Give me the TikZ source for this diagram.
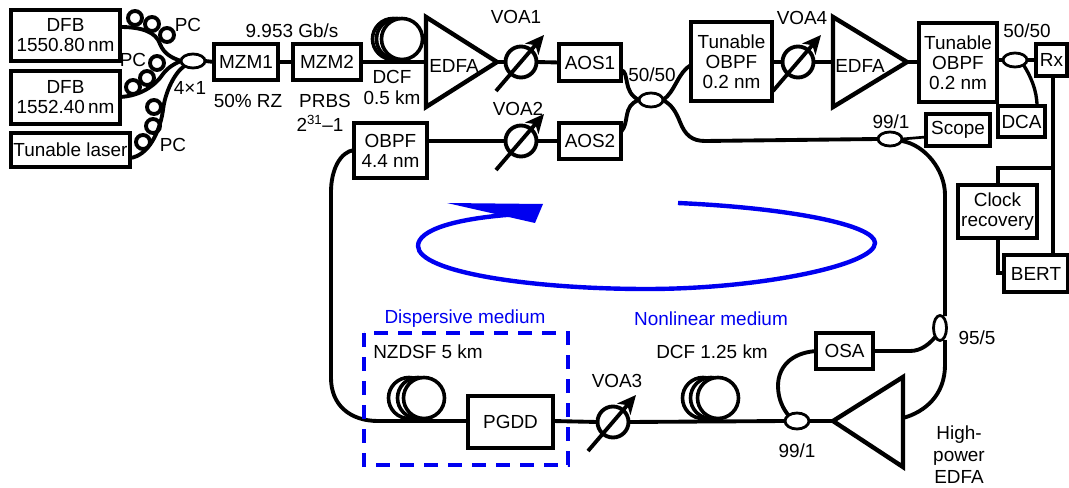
\documentclass[tikz,border=0pt]{standalone}
\usepackage{fontspec}
\setmainfont{Liberation Sans}
\usetikzlibrary{shapes.geometric,arrows.meta,calc}
\definecolor{loopblue}{RGB}{0,0,240}
\newcommand\blk[7][]{\node[blk,#1,minimum width={(#5-#3)*0.75pt},minimum height={(#6-#4)*0.75pt}] (#2) at ({(#3+#5)/2},{(#4+#6)/2}) {#7};}
\newcommand\voa[3]{\node[voabody] (#1) at (#2,#3) {};
  \coordinate (#1-a) at ([shift={(-25,29)}]#1.center);
  \coordinate (#1-b) at ([shift={(23,-27)}]#1.center);
  \draw[voaarrow] (#1-a) -- (#1-b);}
\newcommand\amp[7]{\coordinate (#1-a) at (#2,#3); \coordinate (#1-b) at (#4,#5); \coordinate (#1-tip) at (#6,#7);
  \draw[ampl] (#1-a) -- (#1-b) -- (#1-tip) -- cycle;}
\tikzset{
  x=0.75pt,y=-0.75pt,
  every node/.style={font=\fontsize{14.2}{15}\selectfont,inner sep=0pt,outer sep=0pt,align=center},
  fib/.style={line width=2.9pt,black},
  thinfib/.style={line width=2.5pt,black},
  blk/.style={draw,line width=3.3pt,fill=white},
  blkthin/.style={line width=2.7pt},
  coupler/.style={draw,ellipse,line width=2.1pt,fill=white,minimum width=24*0.75pt,minimum height=14*0.75pt},
  couplerv/.style={draw,ellipse,line width=2.1pt,fill=white,minimum width=13*0.75pt,minimum height=25*0.75pt},
  pcloop/.style={draw,circle,line width=2.9pt,minimum size=14*0.75pt},
  coilring/.style={draw,circle,line width=2.7pt,fill=white,minimum size=41*0.75pt},
  voabody/.style={draw,ellipse,line width=2.9pt,minimum width=31*0.75pt,minimum height=31*0.75pt},
  voaarrow/.style={line width=2.9pt,-{Stealth[length=14pt,width=13pt,inset=4pt]}},
  ampl/.style={line width=3.3pt,line join=miter,fill=white},
  medium/.style={text=loopblue},
}
\begin{document}
\begin{tikzpicture}
\useasboundingbox (0,0) rectangle (1069,488);
% --- sources
\blk{dfba}{11}{10}{120}{61}{DFB\\1550.80\,nm}
\blk{dfbb}{11}{71}{120}{124}{DFB\\1552.40\,nm}
\blk{tun}{11}{133}{130}{167}{Tunable laser}
\node[coupler] (cin) at (193,61) {};
\foreach \n/\x/\y in {pa1/135/18,pa2/152/24,pa3/167/35,pb1/157/63,pb2/147/78,pb3/133/87,pc1/154/107,pc2/153/126,pc3/143/142}
  \node[pcloop] (\n) at (\x,\y) {};
\draw[fib] (dfba.east|-0,27) .. controls (142,27) and (156,32) .. (160,44) .. controls (164,54) and (172,58) .. (cin.west);
\draw[fib] (dfbb.east|-0,97) .. controls (140,96) and (155,86) .. (163,74) .. controls (168,67) and (176,63) .. (cin.west);
\draw[fib] (tun.east|-0,158) .. controls (148,156) and (160,132) .. (163,110) .. controls (165,92) and (175,72) .. (cin.south west);
\node at (188,25) {PC};
\node at (133,60) {PC};
\node at (173,145) {PC};
\node at (190,88) {4×1};
% --- modulators
\blk{mzma}{214}{44}{278}{80}{MZM1}
\blk{mzmb}{293}{44}{361}{80}{MZM2}
\draw[fib] (cin.east) -- (mzma.west);
\draw[fib] (mzma.east) -- (mzmb.west);
\node at (292,31) {9.953 Gb/s};
\node at (248,101) {50\% RZ};
\node at (325,101) {PRBS};
\node at (320,123) {2\textsuperscript{31}–1};
% --- DCF and first EDFA
\node[coilring] (dcfa) at (393,39) {};
\node[coilring] (dcfb) at (397,39) {};
\node[coilring] (dcfc) at (402,39) {};
\node at (392,77) {DCF};
\node at (392,98) {0.5 km};
\amp{ea}{426}{17}{426}{107}{497}{62}
\node (ealabel) at (454,66) {EDFA};
\draw[fib] (mzmb.east) -- (ea-a|-0,62);
\voa{voaa}{521}{62}
\node at (516,17) {VOA1};
\blk{aosa}{559}{44}{621}{81}{AOS1}
\draw[fib] (ea-tip) -- (voaa.west);
\draw[fib] (voaa.east) -- (aosa.west);
% --- second row
\blk{obpf}{354}{123}{427}{178}{OBPF\\4.4 nm}
\voa{voab}{521}{141}
\node at (518,109) {VOA2};
\blk{aosb}{559}{123}{621}{159}{AOS2}
\draw[fib] (obpf.east|-0,141) -- (voab.west);
\draw[fib] (voab.east) -- (aosb.west);
% --- central coupler
\node[coupler] (cmid) at (651,100) {};
\node at (652,75) {50/50};
\blk{tbfa}{691}{22}{772}{101}{Tunable\\OBPF\\0.2 nm}
\draw[fib] (aosa.east|-0,70) .. controls (630,72) and (622,92) .. (cmid.west);
\draw[fib] (aosb.east|-0,132) .. controls (630,122) and (622,106) .. (cmid.west);
\draw[fib] (cmid.east) .. controls (675,92) and (678,72) .. (tbfa.west|-0,65);
% --- second EDFA and output
\voa{voad}{798}{62}
\node at (802,18) {VOA4};
\draw[fib] (tbfa.east|-0,62) -- (voad.west);
\amp{eb}{833}{17}{833}{107}{907}{62}
\node (eblabel) at (860,66) {EDFA};
\draw[fib] (voad.east) -- (eb-a|-0,62);
\blk{tbfb}{919}{23}{997}{102}{Tunable\\OBPF\\0.2 nm}
\draw[fib] (eb-tip) -- (tbfb.west|-0,62);
\node[coupler] (cout) at (1015,60) {};
\node at (1027,31) {50/50};
\blk[blkthin]{rx}{1036}{44}{1067}{76}{Rx}
\blk[blkthin]{dca}{998}{106}{1045}{137}{DCA}
\draw[thinfib] (tbfb.east|-0,60) -- (cout.west);
\draw[thinfib] (cout.east) -- (rx.west|-0,60);
\draw[thinfib] (cout.south east) .. controls (1030,75) and (1037,90) .. (1037,106);
\blk[blkthin]{scope}{926}{114}{990}{146}{Scope}
\node[coupler] (cloop) at (890,139) {};
\node at (891,122) {99/1};
\draw[line width=2pt] (cloop.east) -- (scope.west|-0,137);
\blk{clock}{958}{185}{1037}{238}{Clock\\recovery}
\blk[blkthin]{bert}{1004}{255}{1068}{292}{BERT}
\draw[thinfib] (rx.south) ++(1.5,0) coordinate (rxd) -- (rxd|-bert.north);
\coordinate (branch) at (1053,168);
\draw[thinfib] (branch) -- (998,168) -- (clock.north-|998,0);
\draw[thinfib] (clock.south-|998,0) -- (998,273) -- (bert.west|-0,273);
% --- loop
\draw[fib] (cmid.east) .. controls (672,105) and (676,112) .. (680,122) .. controls (685,135) and (692,141) .. (705,141) -- (cloop.west);
\node[couplerv] (cv) at (940,328) {};
\node at (977,338) {95/5};
\draw[fib] (cloop.east|-0,141) .. controls (925,145) and (945,170) .. (945,195) -- (945,316);
\blk[blkthin]{osa}{816}{333}{873}{369}{OSA}
\draw[fib] (osa.east|-0,351) -- (910,351) .. controls (922,351) and (930,343) .. (cv.south west);
\amp{ec}{903}{377}{903}{467}{833}{421}
\draw[fib] (945,340) -- (945,365) .. controls (945,395) and (925,412) .. (ec-b|-0,418);
\node[coupler,minimum height=16*0.75pt] (clow) at (797,421) {};
\node at (797,451) {99/1};
\draw[fib] (osa.west|-0,351) .. controls (790,353) and (778,368) .. (778,386) .. controls (778,400) and (784,410) .. (clow.north west);
\draw[fib] (clow.east) -- (ec-tip);
\node (hp) at (959,455) {High-\\[1.5pt]power\\[1.5pt]EDFA};
% --- bottom row
\blk{pgdd}{468}{396}{553}{448}{PGDD}
\node[coilring] (nza) at (409,398) {};
\node[coilring] (nzb) at (418,398) {};
\node[coilring] (nzc) at (424,398) {};
\node at (428,352) {NZDSF 5 km};
\voa{voac}{613}{422}
\node at (617,381) {VOA3};
\node[coilring] (dcla) at (703,398) {};
\node[coilring] (dclb) at (711,398) {};
\node[coilring] (dclc) at (718,398) {};
\node at (712,352) {DCF 1.25 km};
\draw[fib] (obpf.west|-0,150) .. controls (340,152) and (331,170) .. (331,192) -- (331,378) .. controls (331,405) and (350,421) .. (378,421) -- (pgdd.west|-0,421);
\draw[fib] (pgdd.east|-0,421) -- (voac.west);
\draw[fib] (voac.east) -- (clow.west);
% --- media
\draw[loopblue,line width=3.5pt,dash pattern=on 10.5pt off 7.5pt] (364,333) rectangle (568,465);
\node[medium] at (465,319) {Dispersive medium};
\node[medium] at (711,319) {Nonlinear medium};
% --- circulation arrow
\draw[loopblue,line width=3.3pt] (678,203) .. controls (790,208) and (875,225) .. (875,243) .. controls (875,265) and (760,289) .. (647,289) .. controls (530,289) and (418,272) .. (418,246) .. controls (418,230) and (455,218) .. (520,214);
\coordinate (heada) at (447,203);
\coordinate (headb) at (543,204);
\coordinate (headc) at (535,223);
\fill[loopblue] (heada) -- (headb) -- (headc) -- cycle;
\end{tikzpicture}
\end{document}
